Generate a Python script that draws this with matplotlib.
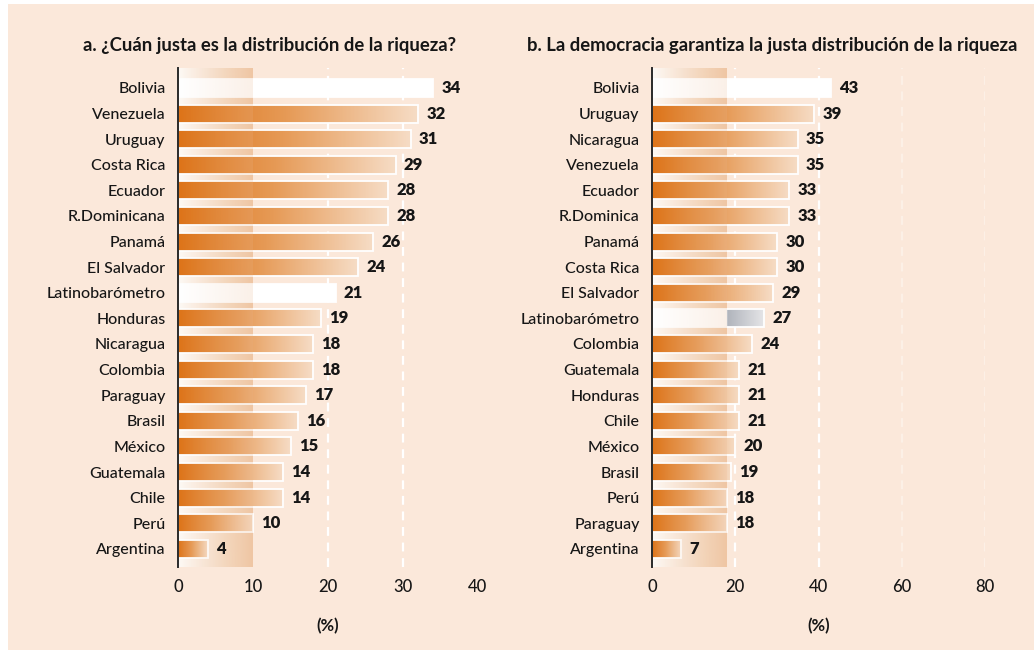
import numpy as np
import matplotlib
matplotlib.use('Agg')
import matplotlib.pyplot as plt
from matplotlib.colors import LinearSegmentedColormap, to_rgb
from matplotlib.patches import Rectangle

plt.rcParams['font.family'] = ['Lato', 'DejaVu Sans']

# panel a
countries_a = ['Bolivia', 'Venezuela', 'Uruguay', 'Costa Rica', 'Ecuador', 'R.Dominicana',
               'Panamá', 'El Salvador', 'Latinobarómetro', 'Honduras', 'Nicaragua', 'Colombia',
               'Paraguay', 'Brasil', 'México', 'Guatemala', 'Chile', 'Perú', 'Argentina']
values_a = [34, 32, 31, 29, 28, 28, 26, 24, 21, 19, 18, 18, 17, 16, 15, 14, 14, 10, 4]
title_a = 'a. ¿Cuán justa es la distribución de la riqueza?'
ticks_a = [0, 10, 20, 30, 40]

# panel b
countries_b = ['Bolivia', 'Uruguay', 'Nicaragua', 'Venezuela', 'Ecuador', 'R.Dominica',
               'Panamá', 'Costa Rica', 'El Salvador', 'Latinobarómetro', 'Colombia', 'Guatemala',
               'Honduras', 'Chile', 'México', 'Brasil', 'Perú', 'Paraguay', 'Argentina']
values_b = [43, 39, 35, 35, 33, 33, 30, 30, 29, 27, 24, 21, 21, 21, 20, 19, 18, 18, 7]
title_b = 'b. La democracia garantiza la justa distribución de la riqueza'
ticks_b = [0, 20, 40, 60, 80]

BG = '#fbe8da'
TXT = '#161616'
orange_cmap = LinearSegmentedColormap.from_list(
    'og', [(0, '#dd7419'), (0.45, '#e69a56'), (1, '#f6dcc5')])
grey_cmap = LinearSegmentedColormap.from_list('gr', ['#b0b4bc', '#e6e6e8'])
BAR_H = 0.7


def bar_colors(kind, v, band_edge, n=200):
    t = np.linspace(0, 1, n)
    if kind == 'orange':
        return orange_cmap(t)[:, :3]
    rgb = np.ones((n, 3))
    if kind == 'grey':
        xs = t * v
        k = xs >= band_edge
        rel = (xs[k] - band_edge) / max(v - band_edge, 1e-6)
        rgb[k] = grey_cmap(rel)[:, :3]
    return rgb


def draw_panel(ax, countries, values, xmax, ticks, grids, faint, band_edge, white, grey):
    n = len(countries)
    ylim = (n - 1 + 0.71, -0.78)
    # shaded band behind the bars
    band = np.ones((1, 100, 3))
    c0 = np.array(to_rgb('#fefaf6'))
    c1 = np.array(to_rgb('#f1cbaa'))
    t = np.linspace(0, 1, 100)[:, None]
    band[0] = c0 * (1 - t) + c1 * t
    ax.imshow(band, extent=(0, band_edge, ylim[0], ylim[1]), aspect='auto',
              zorder=0.5, interpolation='bilinear')
    for g in grids:
        ax.axvline(g, color='white', lw=1.6, ls=(0, (4, 3)), zorder=1)
    for g in faint:
        ax.axvline(g, color='white', lw=1.6, ls=(0, (4, 3)), alpha=0.35, zorder=1)
    for i, (c, v) in enumerate(zip(countries, values)):
        kind = 'white' if c in white else ('grey' if c in grey else 'orange')
        rgb = bar_colors(kind, v, band_edge)[None, :, :]
        ax.imshow(rgb, extent=(0, v, i + BAR_H / 2, i - BAR_H / 2), aspect='auto',
                  zorder=2, interpolation='bilinear')
        ax.add_patch(Rectangle((0, i - BAR_H / 2), v, BAR_H, fill=False,
                               edgecolor='white', lw=1.3, zorder=3))
        ax.annotate(str(v), (v, i), xytext=(6, 0), textcoords='offset points',
                    va='center', ha='left', fontsize=12, fontweight='heavy',
                    color=TXT, zorder=4)
    # light band overlay on top of the bars
    ov = np.zeros((1, 100, 4))
    ov[0, :, :3] = to_rgb('#eab58c')
    ov[0, :, 3] = np.linspace(0, 0.2, 100)
    ax.imshow(ov, extent=(0, band_edge, ylim[0], ylim[1]), aspect='auto',
              zorder=3.5, interpolation='bilinear')

    ax.set_xlim(0, xmax)
    ax.set_ylim(*ylim)
    ax.set_yticks(range(n))
    ax.set_yticklabels(countries, fontsize=11.5, color=TXT, fontweight='medium')
    ax.set_xticks(ticks)
    ax.set_xticklabels([str(t) for t in ticks], fontsize=12, color=TXT, fontweight='medium')
    ax.tick_params(length=0)
    ax.tick_params(axis='y', pad=9)
    ax.tick_params(axis='x', pad=9)
    ax.set_xlabel('(%)', fontsize=12, fontweight='bold', labelpad=16, color=TXT)
    ax.set_facecolor('none')
    for s in ['top', 'right', 'bottom']:
        ax.spines[s].set_visible(False)
    ax.spines['left'].set_color('#2a2a2a')
    ax.spines['left'].set_linewidth(1.4)
    ax.spines['left'].set_zorder(5)


fig = plt.figure(figsize=(10.34, 6.5), dpi=100)
fig.patch.set_facecolor('white')
fig.patches.append(Rectangle((8 / 1034, 0), 1, 1 - 4 / 650, transform=fig.transFigure,
                             facecolor=BG, edgecolor='none', zorder=-10))

ax1 = fig.add_axes([178 / 1034, 83 / 650, 300 / 1034, 499 / 650])
ax2 = fig.add_axes([652 / 1034, 83 / 650, 333 / 1034, 499 / 650])

draw_panel(ax1, countries_a, values_a, 40, ticks_a, [20, 30], [], 10,
           ['Bolivia', 'Latinobarómetro'], [])
draw_panel(ax2, countries_b, values_b, 80, ticks_b, [20, 40], [60, 80], 18,
           ['Bolivia'], ['Latinobarómetro'])

fig.text(270 / 1034, 1 - 45 / 650, title_a, ha='center', va='center',
         fontsize=13.3, fontweight='bold', color=TXT)
fig.text(772 / 1034, 1 - 45 / 650, title_b, ha='center', va='center',
         fontsize=13.3, fontweight='bold', color=TXT)

fig.savefig('out.png', dpi=100, facecolor=fig.get_facecolor())
